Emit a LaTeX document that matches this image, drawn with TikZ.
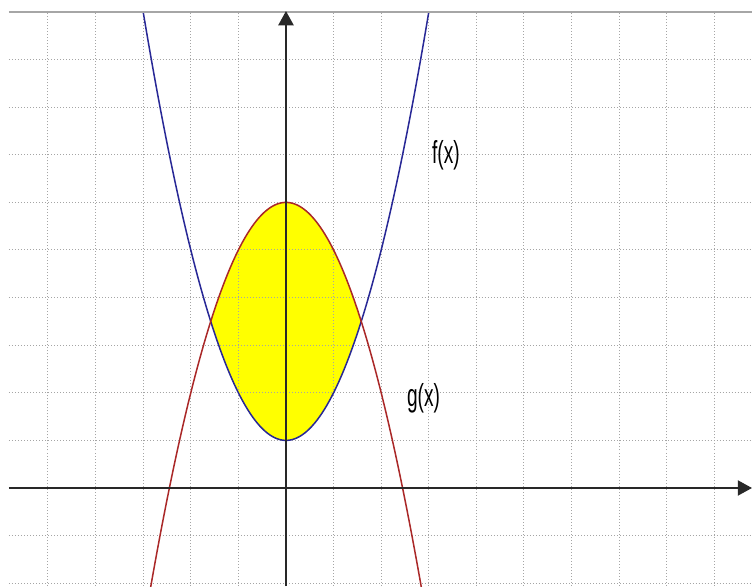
\documentclass[tikz,border=0pt]{standalone}
\usepackage{fontspec}
\setmainfont{Liberation Sans}
\usetikzlibrary{arrows.meta}
\definecolor{gridc}{RGB}{165,165,165}
\definecolor{fblue}{RGB}{40,40,150}
\definecolor{gred}{RGB}{170,40,40}
\definecolor{axisc}{RGB}{40,40,40}
\definecolor{fillc}{RGB}{255,255,0}
\tikzset{
  gridline/.style={gridc, line width=0.6pt, dash pattern=on 0.6pt off 1.2pt},
  topline/.style={gray!70, line width=1pt},
  axisline/.style={axisc, line width=1.2pt, -{Triangle[width=9pt,length=8.5pt]}},
  fcurve/.style={fblue, line width=0.9pt},
  gcurve/.style={gred, line width=0.9pt},
  funlabel/.style={inner sep=0pt, font=\fontsize{19}{19}\selectfont, xscale=0.6}
}
\begin{document}
\begin{tikzpicture}[x=1cm,y=1cm]
\useasboundingbox (-6.008,-2.059) rectangle (9.790,10.252);
\fill[white] (-6.008,-2.059) rectangle (9.790,10.252);
\begin{scope}
\clip (-5.82,-2.059) rectangle (9.790,10);
% filled region
\fill[fillc, domain=-1.5811:1.5811, samples=60]
  plot (\x,{\x*\x+1}) -- plot[domain=1.5811:-1.5811] (\x,{6-\x*\x}) -- cycle;
% grid
\foreach \i in {-5,...,9} \draw[gridline] (\i,-2.059) -- (\i,10);
\foreach \j in {-2,...,9} \draw[gridline] (-5.82,\j) -- (9.790,\j);
% curves
\draw[fcurve, domain=-3.1:3.1, samples=120] plot (\x,{\x*\x+1});
\draw[gcurve, domain=-2.95:2.95, samples=120] plot (\x,{6-\x*\x});
\end{scope}
\draw[topline] (-5.82,10) -- (9.790,10);
% axes
\coordinate (xl) at (-5.82,0);
\coordinate (xr) at (9.790,0);
\coordinate (yb) at (0,-2.059);
\coordinate (yt) at (0,10.02);
\draw[axisline] (xl) -- (xr);
\draw[axisline] (yb) -- (yt);
% labels
\node[funlabel] (flab) at (3.36,7.0) {f(x)};
\node[funlabel] (glab) at (2.89,1.89) {g(x)};
\end{tikzpicture}
\end{document}
